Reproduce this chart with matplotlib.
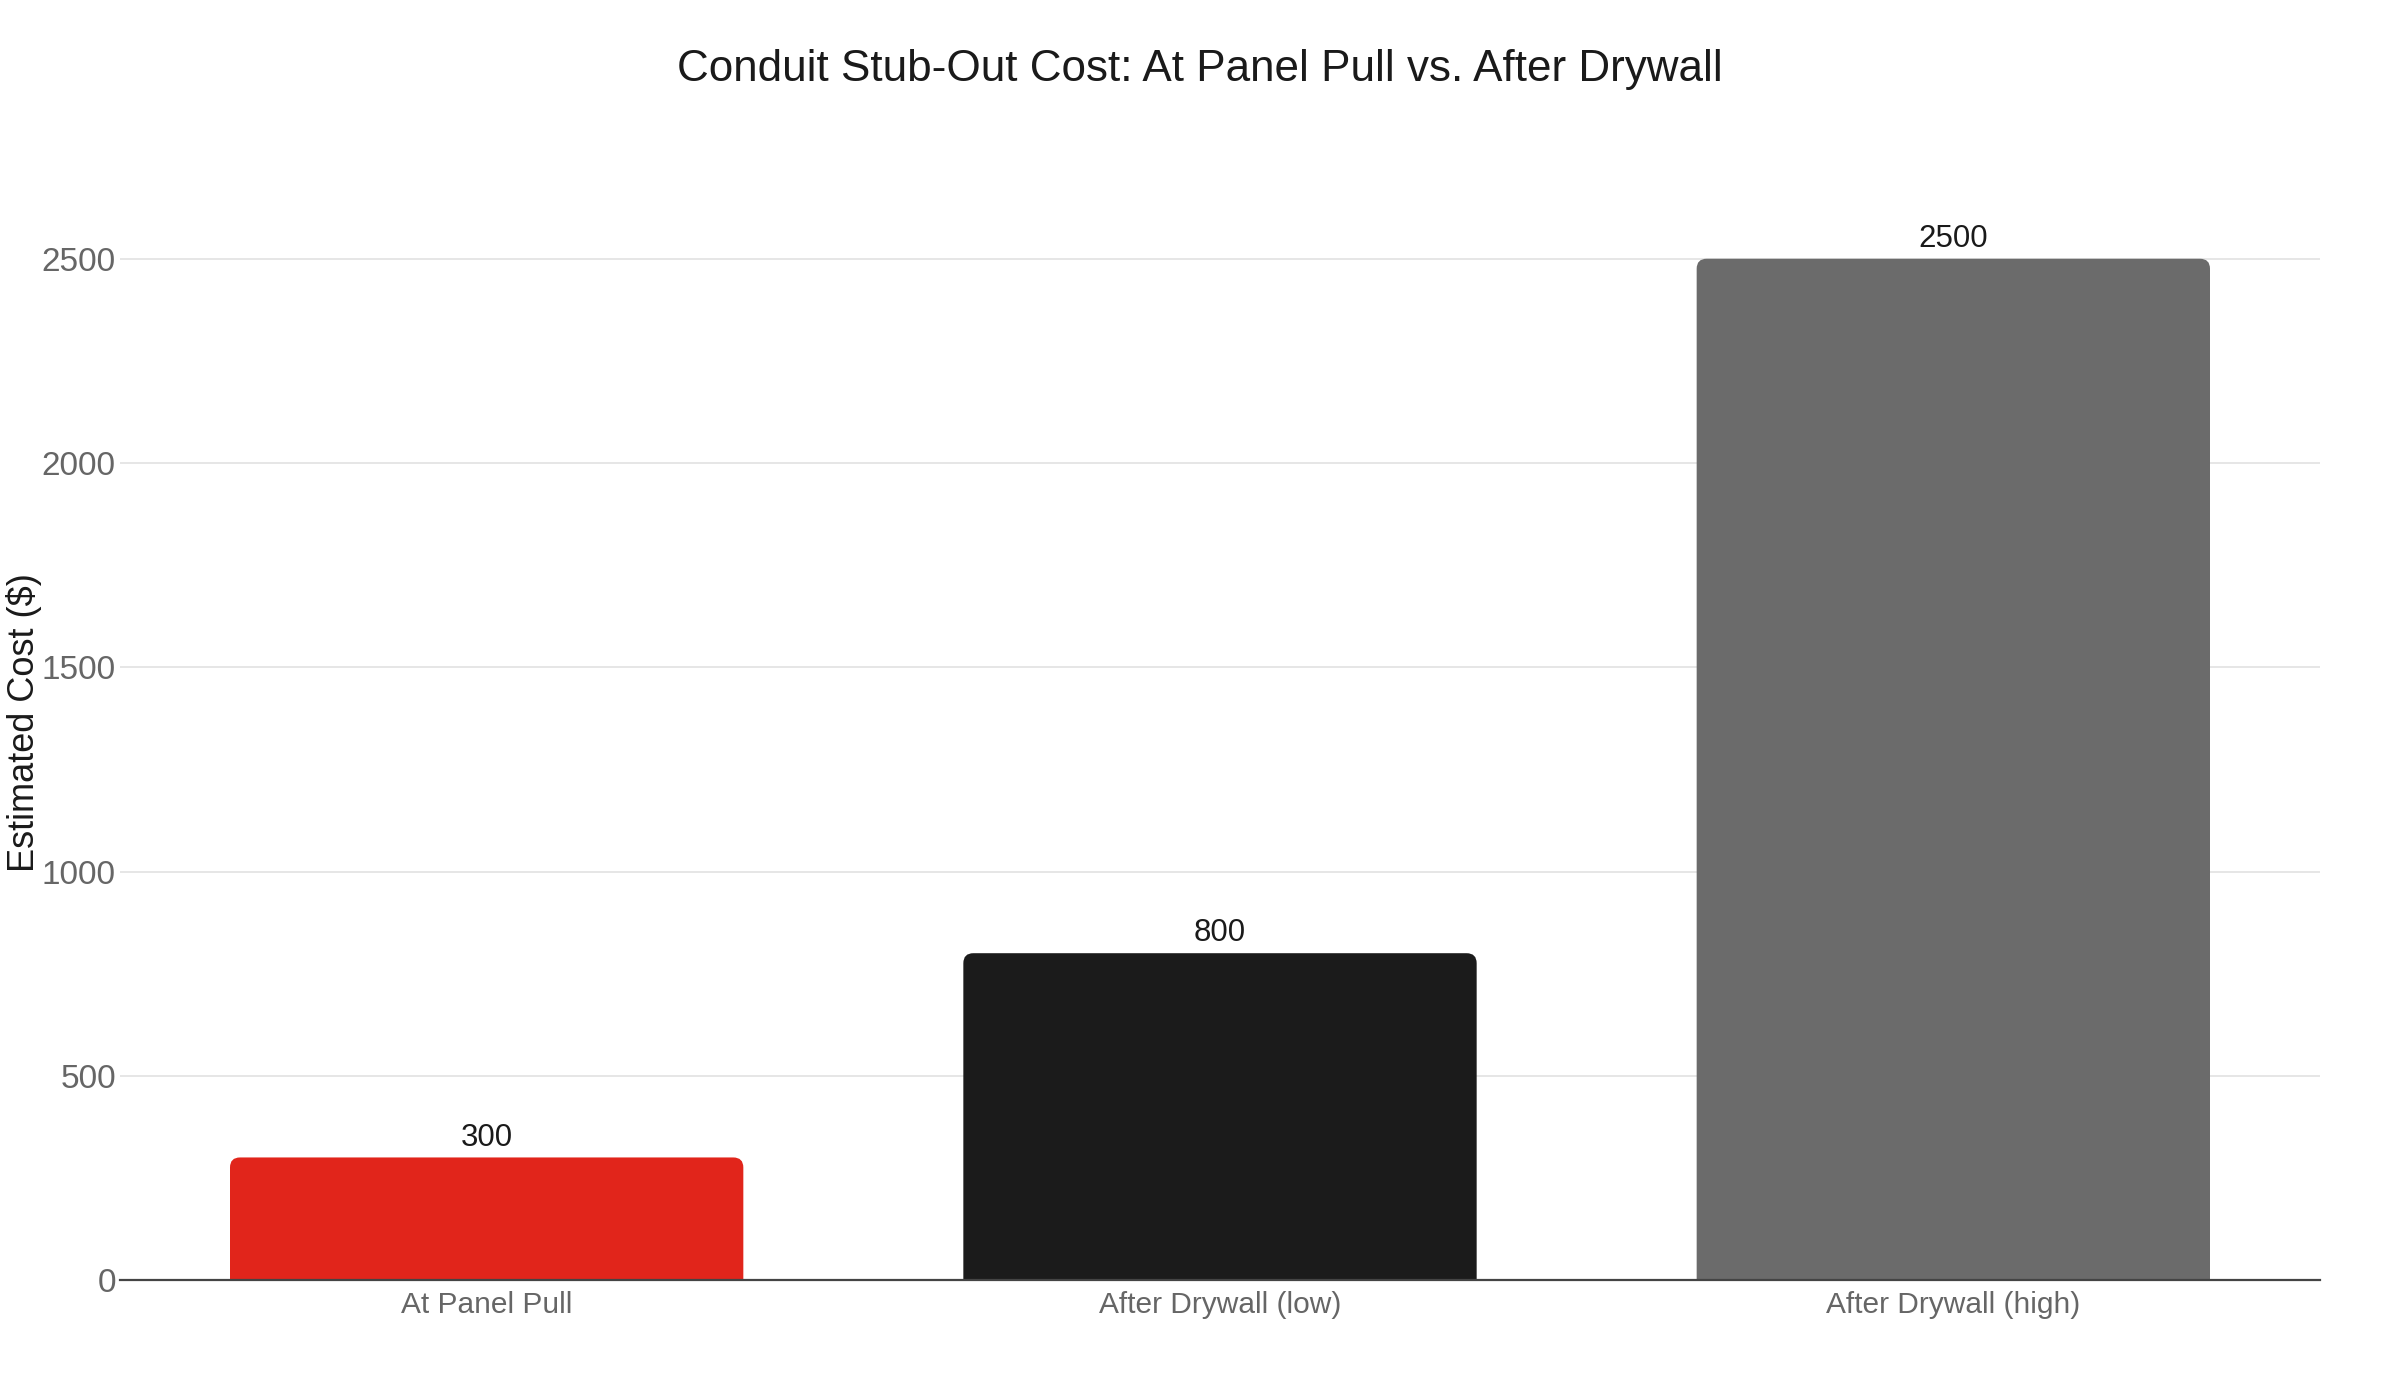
import numpy as np
import matplotlib
matplotlib.use("Agg")
import matplotlib.pyplot as plt
from matplotlib.patches import FancyBboxPatch

categorias = ["At Panel Pull", "After Drywall (low)", "After Drywall (high)"]
custos = [300, 800, 2500]
cores = ["#E1251B", "#1B1B1B", "#6B6B6B"]
ticks_y = [0, 500, 1000, 1500, 2000, 2500]

plt.rcParams["font.family"] = ["Liberation Sans", "DejaVu Sans"]

W, H = 2400, 1400
fig = plt.figure(figsize=(24, 14), dpi=100)
# area do grafico em pixels (esq, topo, dir, base)
esq, topo, dir_, base = 120, 205, 2320, 1280
ax = fig.add_axes([esq / W, 1 - base / H, (dir_ - esq) / W, (base - topo) / H])

x = np.arange(len(categorias))
barras = ax.bar(x, custos, width=0.7, color=cores, zorder=2)

ax.set_xlim(-0.5, len(categorias) - 0.5)
ax.set_ylim(0, max(custos) / 0.95)

# cantos arredondados no topo das barras (~10 px)
px_x = 10 / (ax.transData.transform((1, 0))[0] - ax.transData.transform((0, 0))[0])
px_y = 10 / (ax.transData.transform((0, 1))[1] - ax.transData.transform((0, 0))[1])
for b, cor in zip(barras, cores):
    bx, by = b.get_x(), b.get_y()
    bw, bh = b.get_width(), b.get_height()
    b.remove()
    p = FancyBboxPatch((bx, by - px_y), bw, bh + px_y,
                       boxstyle=f"round,pad=0,rounding_size={px_x}",
                       mutation_aspect=px_y / px_x,
                       facecolor=cor, edgecolor="none", zorder=2)
    ax.add_patch(p)

for xi, v in zip(x, custos):
    ax.annotate(f"{v}", (xi, v), xytext=(0, 8.6), textcoords="offset points",
                ha="center", va="baseline", fontsize=22.5, color="#1a1a1a")

ax.set_yticks(ticks_y)
ax.set_yticklabels([str(t) for t in ticks_y])
ax.set_xticks(x)
ax.set_xticklabels(categorias)
ax.tick_params(axis="y", length=0, pad=3, labelsize=24, labelcolor="#666666")
ax.tick_params(axis="x", length=0, pad=8, labelsize=21.5, labelcolor="#666666")

ax.grid(True, axis="y", color="#E6E6E6", linewidth=1.44)
ax.set_axisbelow(True)
for s in ["top", "right", "left"]:
    ax.spines[s].set_visible(False)
ax.spines["bottom"].set_color("#444444")
ax.spines["bottom"].set_linewidth(1.6)
ax.spines["bottom"].set_zorder(3)

fig.text(0.5, 1 - 81 / H, "Conduit Stub-Out Cost: At Panel Pull vs. After Drywall",
         ha="center", va="baseline", fontsize=31.7, color="#1a1a1a")
fig.text(24 / W, 1 - 723 / H, "Estimated Cost ($)", rotation=90,
         ha="center", va="center", fontsize=26, color="#1a1a1a")

fig.savefig("out.png", dpi=100, facecolor="white")
